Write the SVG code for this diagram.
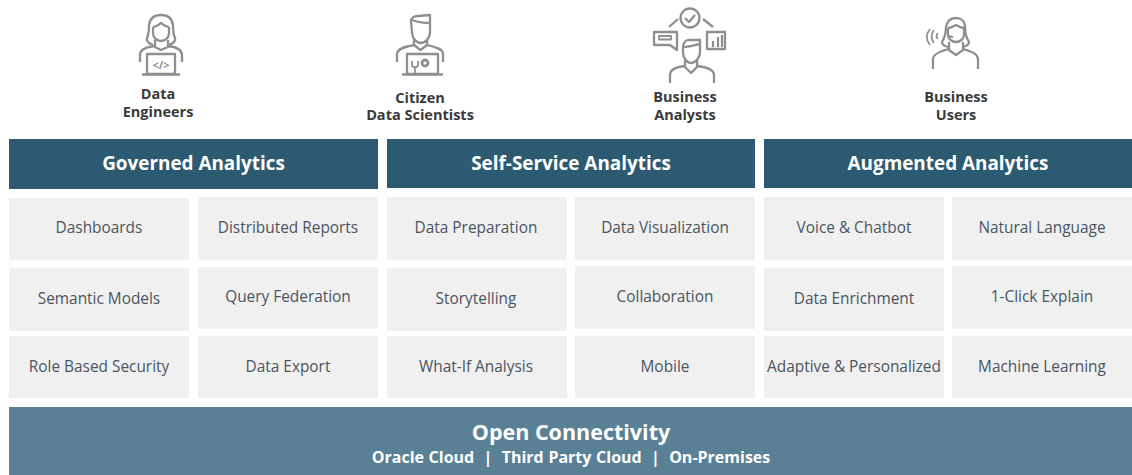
<svg xmlns="http://www.w3.org/2000/svg" width="1132" height="475" viewBox="0 0 1132 475">
<style>
text{font-family:"Open Sans","Noto Sans","Liberation Sans",sans-serif;text-anchor:middle}
.h{fill:#2c5a70}
.t{fill:#f0f0f0}
.ht{font-size:18.900px;font-weight:700;fill:#fff}
.tt{font-size:15.400px;fill:#4b5560}
.role{font-size:14.500px;font-weight:700;fill:#3a3a3a}
.i{fill:none;stroke:#8f8f8f;stroke-width:2.300;stroke-linejoin:round}
.it{font-size:11px;font-weight:700;fill:#8f8f8f}
</style>
<rect width="1132" height="475" fill="#fff"/>
<g id="role-data-engineers">
<g class="i">
<path d="M153 45C148 43 146 41 147 38C149 34 149 30 149 25C150 18 155 15 161 15C167 15 172 18 173 25C173 30 173 34 175 38C176 41 174 43 169 45"/>
<path d="M153 27C157 27 159 24 161 23C163 24 165 27 169 27"/>
<path d="M153 27L153 33C153 38 157 41 161 41C165 41 169 38 169 33L169 27"/>
<path d="M155 40L155 47L161 50L168 47L168 40"/>
<path d="M140 62L140 55C140 50 146 47 155 46M182 62L182 55C182 50 176 47 168 46"/>
<rect x="147" y="54" width="28" height="20"/>
<path d="M142 74.500L180 74.500"/>
</g>
<text class="it" x="161" y="69">&lt;/&gt;</text>
<text class="role" x="158" y="99">Data</text>
<text class="role" x="158" y="117">Engineers</text>
</g>
<g id="role-citizen-data-scientists">
<g class="i">
<path d="M412 32L411 21C411 18 414 16 418 16L430 15L430 32C430 38 425 43 421 43C416 43 412 38 412 32Z"/>
<path d="M412 20C417 22 424 23 430 23"/>
<path d="M414 39L414 45L420.500 50L427 45L427 39"/>
<path d="M397 62L397 54C397 49 404 47 414 45M443 62L443 54C443 49 436 47 427 45"/>
<rect x="407" y="54" width="31" height="20"/>
<path d="M402 74.500L443 74.500"/>
<path d="M412 61L412 65C412 68 418 68 418 65L418 61M415 67L415 73" stroke-width="1.800"/>
<circle cx="425" cy="63" r="3" stroke-width="2.800"/>
</g>
<text class="role" x="420" y="103">Citizen</text>
<text class="role" x="420" y="120">Data Scientists</text>
</g>
<g id="role-business-analysts">
<g class="i">
<circle cx="690" cy="18" r="9.500"/>
<path d="M685 18L689 22L695 15M669 27L678 19M703 19L713 27"/>
<path d="M654 32L677 32L677 50L670 45L654 45Z"/>
<rect x="659" y="36" width="12" height="3.500" stroke-width="1.800"/>
<rect x="707" y="32" width="18" height="17"/>
<path d="M713 47L713 41M718 47L718 37M722 47L722 35" stroke-width="2.200"/>
<path d="M683 48C683 44 684 41 688 40L700 40L700 52C700 58 695 63 691 63C687 63 683 58 683 52Z"/>
<path d="M683 47C689 47 694 45 700 44"/>
<path d="M685 60L685 67L691 73L697 67L697 60"/>
<path d="M670 83L670 75C670 70 676 67 685 66M714 83L714 75C714 70 706 67 697 66"/>
</g>
<text class="role" x="685" y="102">Business</text>
<text class="role" x="685" y="120">Analysts</text>
</g>
<g id="role-business-users">
<g class="i">
<path d="M948 47C944 46 942 44 942 42C945 37 946 32 946 27C947 21 951 18 956 18C961 18 965 21 965 27C965 32 966 37 969 42C969 44 967 46 963 47"/>
<path d="M948 28C952 28 954 26 956 25C958 26 960 28 964 28"/>
<path d="M948 28L948 35C948 39 952 42 956 42C960 42 964 39 964 35L964 28"/>
<path d="M949 42L949 50L956 55L963 50L963 42"/>
<path d="M933 69L933 59C933 54 941 51 949 49M978 69L978 59C978 54 971 51 963 49"/>
<path d="M948 36L953 37" stroke-width="1.800"/>
<path d="M938 33C936 35 936 37 938 39M934 30C931 34 931 39 934 43M930 29C926 34 926 40 930 45" stroke-width="1.700"/>
</g>
<text class="role" x="956" y="102">Business</text>
<text class="role" x="956" y="120">Users</text>
</g>
<g id="col-governed">
<g id="hdr-governed"><rect class="h" x="9" y="139" width="369" height="50"/><text class="ht" x="193.500" y="170">Governed Analytics</text></g>
<g id="tile-dashboards"><rect class="t" x="9" y="198" width="180" height="62"/><text class="tt" x="99" y="233">Dashboards</text></g>
<g id="tile-distributed-reports"><rect class="t" x="198" y="197" width="180" height="63"/><text class="tt" x="288" y="233">Distributed Reports</text></g>
<g id="tile-semantic-models"><rect class="t" x="9" y="268" width="180" height="63"/><text class="tt" x="99" y="304">Semantic Models</text></g>
<g id="tile-query-federation"><rect class="t" x="198" y="267" width="180" height="62"/><text class="tt" x="288" y="302">Query Federation</text></g>
<g id="tile-role-based-security"><rect class="t" x="9" y="336" width="180" height="62"/><text class="tt" x="99" y="372">Role Based Security</text></g>
<g id="tile-data-export"><rect class="t" x="198" y="336" width="180" height="62"/><text class="tt" x="288" y="372">Data Export</text></g>
</g>
<g id="col-self-service">
<g id="hdr-self-service"><rect class="h" x="387" y="139" width="368" height="49"/><text class="ht" x="571" y="170">Self-Service Analytics</text></g>
<g id="tile-data-preparation"><rect class="t" x="387" y="197" width="180" height="63"/><text class="tt" x="476" y="233">Data Preparation</text></g>
<g id="tile-data-visualization"><rect class="t" x="575" y="197" width="180" height="63"/><text class="tt" x="665" y="233">Data Visualization</text></g>
<g id="tile-storytelling"><rect class="t" x="387" y="268" width="180" height="63"/><text class="tt" x="476" y="304">Storytelling</text></g>
<g id="tile-collaboration"><rect class="t" x="575" y="266" width="180" height="63"/><text class="tt" x="665" y="302">Collaboration</text></g>
<g id="tile-what-if-analysis"><rect class="t" x="387" y="336" width="180" height="62"/><text class="tt" x="476" y="372">What-If Analysis</text></g>
<g id="tile-mobile"><rect class="t" x="575" y="336" width="180" height="62"/><text class="tt" x="665" y="372">Mobile</text></g>
</g>
<g id="col-augmented">
<g id="hdr-augmented"><rect class="h" x="764" y="139" width="368" height="49"/><text class="ht" x="948" y="170">Augmented Analytics</text></g>
<g id="tile-voice-chatbot"><rect class="t" x="764" y="197" width="180" height="63"/><text class="tt" x="854" y="233">Voice &amp; Chatbot</text></g>
<g id="tile-natural-language"><rect class="t" x="952" y="197" width="180" height="63"/><text class="tt" x="1042" y="233">Natural Language</text></g>
<g id="tile-data-enrichment"><rect class="t" x="764" y="268" width="180" height="63"/><text class="tt" x="854" y="304">Data Enrichment</text></g>
<g id="tile-1-click-explain"><rect class="t" x="952" y="266" width="180" height="63"/><text class="tt" x="1042" y="302">1-Click Explain</text></g>
<g id="tile-adaptive-personalized"><rect class="t" x="764" y="336" width="180" height="62"/><text class="tt" x="854" y="372" font-size="15.200">Adaptive &amp; Personalized</text></g>
<g id="tile-machine-learning"><rect class="t" x="952" y="336" width="180" height="62"/><text class="tt" x="1042" y="372">Machine Learning</text></g>
</g>
<g id="open-connectivity">
<rect x="9" y="407" width="1123" height="68" fill="#5a8095"/>
<text x="571" y="440" font-size="21.500" font-weight="700" fill="#fff">Open Connectivity</text>
<text x="571" y="463" font-size="16" font-weight="700" fill="#fff" word-spacing="0.500" xml:space="preserve">Oracle Cloud  |  Third Party Cloud  |  On-Premises</text>
</g>
<g id="connectors"/>
</svg>
